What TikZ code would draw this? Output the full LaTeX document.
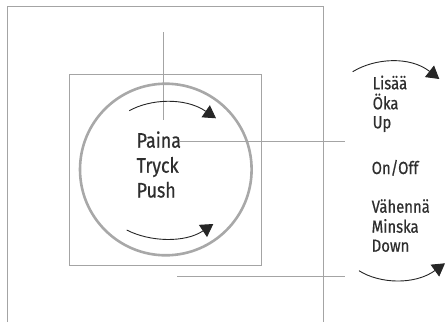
\documentclass[tikz,border=0pt]{standalone}
\usepackage{fontspec}
\setmainfont[FakeStretch=0.85,FakeBold=0.6]{Fira Sans}
\usetikzlibrary{arrows.meta}
\definecolor{linegray}{HTML}{A4A4A4}
\definecolor{circgray}{HTML}{A8A8A8}
\definecolor{txt}{HTML}{2E2E2E}
\tikzset{
  frame/.style={draw=linegray, line width=1pt},
  leader/.style={draw=linegray, line width=0.9pt},
  dial/.style={draw=circgray, line width=2.6pt},
  turn/.style={draw=black!85, line width=0.9pt, -{Triangle[length=12.5pt,width=14.5pt]}},
  biglabel/.style={anchor=base west, inner sep=0pt, text=txt, font=\fontsize{21}{25}\selectfont},
  sidelabel/.style={anchor=base west, inner sep=0pt, text=txt, font=\fontsize{17.5}{20}\selectfont},
}
\begin{document}
\begin{tikzpicture}[x=1pt,y=-1pt]
\useasboundingbox (0,0) rectangle (445,322);
% outer frame (open at the bottom)
\draw[frame] (7.5,322) -- (7.5,6.5) -- (323,6.5) -- (323,322);
% inner plate
\draw[frame] (69.5,74) rectangle (261,265.5);
% dial
\draw[dial] (165.8,169.5) circle (85.8);
% labels
\node[biglabel] (paina) at (136.5,147.7) {Paina};
\node[biglabel] (tryck) at (136.5,172.7) {Tryck};
\node[biglabel] (push)  at (136.5,197.5) {Push};
\node[sidelabel] (lisaa) at (372.5,89.3) {Lisää};
\node[sidelabel] (oka)   at (372.5,109.3) {Öka};
\node[sidelabel] (up)    at (372.5,128.3) {Up};
\node[sidelabel] (onoff) at (371.5,174) {On/Off};
\node[sidelabel] (vahenna) at (371.5,212.7) {Vähennä};
\node[sidelabel] (minska)  at (371.5,232.7) {Minska};
\node[sidelabel] (down)    at (371.5,251.7) {Down};
% leader lines
\coordinate (vtop) at (163.3,32.3);
\coordinate (vbot) at (163.3,120);
\draw[leader] (vtop) -- (vbot);
\coordinate (hstart) at (180,141.3);
\coordinate (hend) at (345,141.3);
\draw[leader] (hstart) -- (hend);
\coordinate (bstart) at (177.3,276);
\coordinate (bend) at (345,276);
\draw[leader] (bstart) -- (bend);
% rotation arrows
\coordinate (a1s) at (129.3,110.7);
\coordinate (a1e) at (216,118.3);
\draw[turn] (a1s) .. controls (150,99) and (185,97) .. (a1e);
\coordinate (a2s) at (126.7,230);
\coordinate (a2e) at (213.3,224);
\draw[turn] (a2s) .. controls (150,242) and (185,243) .. (a2e);
\coordinate (a3s) at (352.7,71.7);
\coordinate (a3e) at (439.3,79);
\draw[turn] (a3s) .. controls (375,58) and (410,56) .. (a3e);
\coordinate (a4s) at (359,270.7);
\coordinate (a4e) at (445,263.3);
\draw[turn] (a4s) .. controls (380,284) and (415,285) .. (a4e);
\end{tikzpicture}
\end{document}
